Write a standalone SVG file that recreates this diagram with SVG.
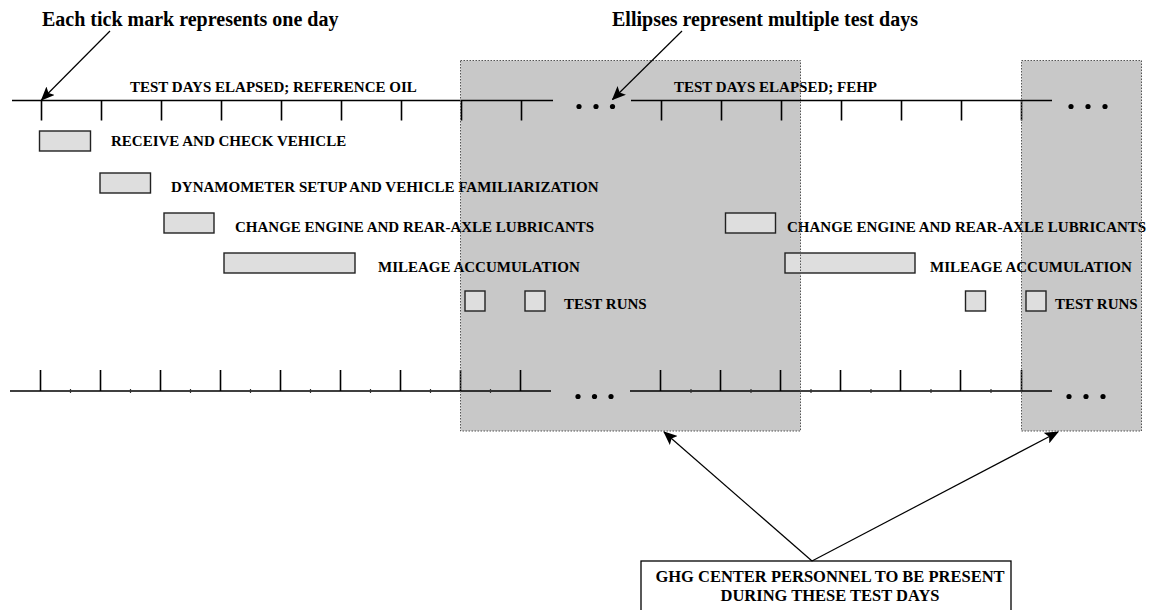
<svg xmlns="http://www.w3.org/2000/svg" width="1151" height="610" viewBox="0 0 1151 610">
<style>
.t{font-family:"Liberation Serif","Times New Roman",serif;font-weight:bold;fill:#000}
.lbl{font-size:15px}
.ttl{font-size:20px}
.ghg{font-size:16.5px}
.ax{stroke:#000;stroke-width:1.6;fill:none}
.tk{stroke:#000;stroke-width:1.6}
.mt{stroke:#333;stroke-width:1.2}
.bar{fill:#dedede;stroke:#222;stroke-width:1.4}
.shade{fill:#c8c8c8;stroke:none}
.shadeb{fill:none;stroke:#555;stroke-width:1;stroke-dasharray:1.5 1.5}
.con{stroke:#000;stroke-width:1.2;fill:none}
</style>
<defs>
<marker id="ah" markerWidth="14" markerHeight="12" refX="13" refY="6" orient="auto" markerUnits="userSpaceOnUse">
<path d="M0,0 L14,6 L0,12 L3,6 Z" fill="#000"/>
</marker>
</defs>
<g id="shaded-periods">
<rect class="shade" x="460.5" y="60.5" width="340" height="370.5"/>
<rect class="shade" x="1021.5" y="60.5" width="120" height="370.5"/>
</g>
<g id="top-timeline">
<line class="ax" x1="12" y1="100.5" x2="553" y2="100.5"/>
<line class="ax" x1="631" y1="100.5" x2="1052" y2="100.5"/>
<g class="tk">
<line x1="41.5" y1="100" x2="41.5" y2="120.5"/><line x1="101.5" y1="100" x2="101.5" y2="120.5"/><line x1="161.5" y1="100" x2="161.5" y2="120.5"/><line x1="221.5" y1="100" x2="221.5" y2="120.5"/><line x1="281.5" y1="100" x2="281.5" y2="120.5"/><line x1="341.5" y1="100" x2="341.5" y2="120.5"/><line x1="401.5" y1="100" x2="401.5" y2="120.5"/><line x1="461.5" y1="100" x2="461.5" y2="120.5"/><line x1="521.5" y1="100" x2="521.5" y2="120.5"/>
<line x1="661.5" y1="100" x2="661.5" y2="120.5"/><line x1="721.5" y1="100" x2="721.5" y2="120.5"/><line x1="781.5" y1="100" x2="781.5" y2="120.5"/><line x1="841.5" y1="100" x2="841.5" y2="120.5"/><line x1="901.5" y1="100" x2="901.5" y2="120.5"/><line x1="961.5" y1="100" x2="961.5" y2="120.5"/><line x1="1021.5" y1="100" x2="1021.5" y2="120.5"/>
</g>
<circle cx="579" cy="106.5" r="2.6"/><circle cx="596" cy="106.5" r="2.6"/><circle cx="612.5" cy="106.5" r="2.6"/>
<circle cx="1071" cy="106.5" r="2.6"/><circle cx="1088" cy="106.5" r="2.6"/><circle cx="1105" cy="106.5" r="2.6"/>
<text class="t lbl" x="130" y="91.5">TEST DAYS ELAPSED; REFERENCE OIL</text>
<text class="t lbl" x="674" y="91.5">TEST DAYS ELAPSED; FEHP</text>
</g>
<g id="bottom-timeline">
<line class="ax" x1="10" y1="391" x2="551" y2="391"/>
<line class="ax" x1="630" y1="391" x2="1052" y2="391"/>
<g class="tk">
<line x1="40.5" y1="370" x2="40.5" y2="391"/><line x1="100.5" y1="370" x2="100.5" y2="391"/><line x1="160.5" y1="370" x2="160.5" y2="391"/><line x1="220.5" y1="370" x2="220.5" y2="391"/><line x1="280.5" y1="370" x2="280.5" y2="391"/><line x1="340.5" y1="370" x2="340.5" y2="391"/><line x1="400.5" y1="370" x2="400.5" y2="391"/><line x1="460.5" y1="370" x2="460.5" y2="391"/><line x1="520.5" y1="370" x2="520.5" y2="391"/>
<line x1="660.5" y1="370" x2="660.5" y2="391"/><line x1="720.5" y1="370" x2="720.5" y2="391"/><line x1="780.5" y1="370" x2="780.5" y2="391"/><line x1="840.5" y1="370" x2="840.5" y2="391"/><line x1="900.5" y1="370" x2="900.5" y2="391"/><line x1="960.5" y1="370" x2="960.5" y2="391"/><line x1="1021.5" y1="370" x2="1021.5" y2="391"/>
</g>
<g class="mt">
<line x1="70.5" y1="389" x2="70.5" y2="393"/><line x1="130.5" y1="389" x2="130.5" y2="393"/><line x1="190.5" y1="389" x2="190.5" y2="393"/><line x1="250.5" y1="389" x2="250.5" y2="393"/><line x1="310.5" y1="389" x2="310.5" y2="393"/><line x1="370.5" y1="389" x2="370.5" y2="393"/><line x1="430.5" y1="389" x2="430.5" y2="393"/><line x1="490.5" y1="389" x2="490.5" y2="393"/>
<line x1="691" y1="389" x2="691" y2="393"/><line x1="751" y1="389" x2="751" y2="393"/><line x1="811" y1="389" x2="811" y2="393"/><line x1="871" y1="389" x2="871" y2="393"/><line x1="931" y1="389" x2="931" y2="393"/><line x1="991" y1="389" x2="991" y2="393"/>
</g>
<circle cx="578" cy="396.5" r="2.6"/><circle cx="594.5" cy="396.5" r="2.6"/><circle cx="611" cy="396.5" r="2.6"/>
<circle cx="1069" cy="396.5" r="2.6"/><circle cx="1086" cy="396.5" r="2.6"/><circle cx="1103" cy="396.5" r="2.6"/>
</g>
<g id="receive">
<rect class="bar" x="39.5" y="131" width="51" height="20"/>
<text class="t lbl" x="111" y="146">RECEIVE AND CHECK VEHICLE</text>
</g>
<g id="dynamometer">
<rect class="bar" x="100" y="173" width="50.5" height="20"/>
<text class="t lbl" x="171" y="191.5">DYNAMOMETER SETUP AND VEHICLE FAMILIARIZATION</text>
</g>
<g id="change-ref">
<rect class="bar" x="164" y="213" width="50" height="20"/>
<text class="t lbl" x="235" y="231.5">CHANGE ENGINE AND REAR-AXLE LUBRICANTS</text>
</g>
<g id="mileage-ref">
<rect class="bar" x="224" y="253" width="131" height="20"/>
<text class="t lbl" x="378" y="271.5">MILEAGE ACCUMULATION</text>
</g>
<g id="testruns-ref">
<rect class="bar" x="465" y="291" width="20" height="20"/>
<rect class="bar" x="525" y="291" width="20" height="20"/>
<text class="t lbl" x="564" y="309">TEST RUNS</text>
</g>
<g id="change-fehp">
<rect class="bar" x="725.5" y="213" width="50" height="20"/>
<text class="t lbl" x="787" y="231.5">CHANGE ENGINE AND REAR-AXLE LUBRICANTS</text>
</g>
<g id="mileage-fehp">
<rect class="bar" x="785" y="253" width="130" height="20"/>
<text class="t lbl" x="930" y="271.5">MILEAGE ACCUMULATION</text>
</g>
<g id="testruns-fehp">
<rect class="bar" x="965.5" y="291" width="20" height="20"/>
<rect class="bar" x="1026" y="291" width="20" height="20"/>
<text class="t lbl" x="1055" y="309">TEST RUNS</text>
</g>
<g id="shade-borders">
<rect class="shadeb" x="460.5" y="60.5" width="340" height="370.5"/>
<rect class="shadeb" x="1021.5" y="60.5" width="120" height="370.5"/>
</g>
<g id="note-tick">
<text class="t ttl" x="42" y="26">Each tick mark represents one day</text>
</g>
<g id="note-ellipses">
<text class="t ttl" x="612" y="26">Ellipses represent multiple test days</text>
</g>
<g id="ghg-box">
<rect x="641" y="561" width="370" height="55" fill="#fff" stroke="#000" stroke-width="1.3"/>
<text class="t ghg" x="830" y="582" text-anchor="middle">GHG CENTER PERSONNEL TO BE PRESENT</text>
<text class="t ghg" x="830" y="600.5" text-anchor="middle">DURING THESE TEST DAYS</text>
</g>
<g id="connectors">
<line class="con" x1="110" y1="31" x2="41.5" y2="100" marker-end="url(#ah)"/>
<line class="con" x1="682" y1="31" x2="612.5" y2="99.5" marker-end="url(#ah)"/>
<line class="con" x1="812" y1="561" x2="664" y2="432" marker-end="url(#ah)"/>
<line class="con" x1="812" y1="561" x2="1058" y2="432" marker-end="url(#ah)"/>
</g>
</svg>
